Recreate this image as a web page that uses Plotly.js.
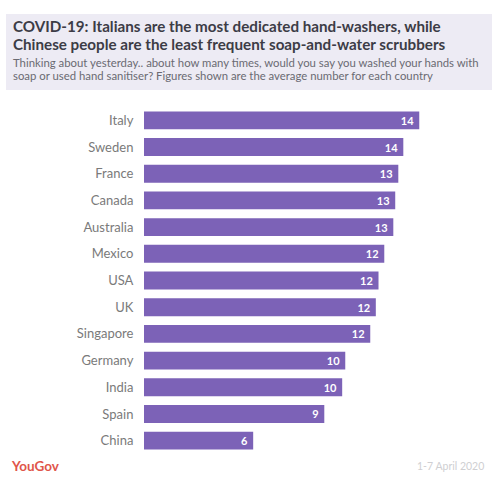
<!DOCTYPE html>
<html><head><meta charset="utf-8">
<script src="https://cdn.plot.ly/plotly-3.0.1.min.js"></script>
<style>html,body{margin:0;padding:0;background:#fff}</style></head>
<body><div id="chart" style="width:502px;height:482px"></div>
<script>
const countries = ["Italy","Sweden","France","Canada","Australia","Mexico","USA","UK","Singapore","Germany","India","Spain","China"];
const values = [14.32,13.49,13.23,13.07,12.97,12.5,12.2,12.06,11.77,10.47,10.31,9.38,5.68];
const valueLabels = ["14","14","13","13","13","12","12","12","12","10","10","9","6"];
const titleLines = ["COVID-19: Italians are the most dedicated hand-washers, while","Chinese people are the least frequent soap-and-water scrubbers"];
const subtitleLines = ["Thinking about yesterday.. about how many times, would you say you washed your hands with","soap or used hand sanitiser? Figures shown are the average number for each country"];
const F = "Lato, 'Open Sans', sans-serif";
const W = 346, H = 347, L = 144, T = 107;
const px = v => (v - L) / W, py = v => (T + H - v) / H;
const line = (x, y, text, size, color, anchor) => ({xref:"paper",yref:"paper",x:px(x),y:py(y),xanchor:anchor||"left",yanchor:"middle",showarrow:false,text:text,font:{family:F,size:size,color:color}});
Plotly.newPlot("chart",[{
  type:"bar",orientation:"h",x:values,y:countries,text:valueLabels,texttemplate:"%{text}\u00a0",
  textposition:"inside",insidetextanchor:"end",textangle:0,constraintext:"none",
  textfont:{family:F,size:11,color:"#ffffff",weight:700},
  marker:{color:"#7c62b7"},hoverinfo:"skip",cliponaxis:false
}],{
  width:502,height:482,paper_bgcolor:"#fff",plot_bgcolor:"#fff",showlegend:false,
  margin:{l:L,r:12,t:T,b:28,pad:0},bargap:0.33,
  xaxis:{range:[0,18],visible:false,fixedrange:true},
  yaxis:{type:"category",autorange:"reversed",showgrid:false,zeroline:false,showline:false,ticks:"outside",ticklen:7,tickcolor:"rgba(0,0,0,0)",
    tickfont:{family:F,size:13,color:"#7a7a7a"},fixedrange:true},
  shapes:[{type:"rect",xref:"paper",yref:"paper",x0:px(6),x1:px(492),y0:py(90),y1:py(14),fillcolor:"#edebf4",line:{width:0},layer:"below"}],
  annotations:[
   line(11,25.5,"<b>"+titleLines[0]+"</b>",15.2,"#3c3c46"),
   line(11,43.9,"<b>"+titleLines[1]+"</b>",15.2,"#3c3c46"),
   line(11,62.5,subtitleLines[0],11.35,"#6a6a72"),
   line(11,75.5,subtitleLines[1],11.35,"#6a6a72"),
   line(9,466,"<b>YouGov</b>",13.5,"#e0554a"),
   line(486,466,"1-7 April 2020",10.5,"#cfcfd2","right")
  ]
},{displayModeBar:false,staticPlot:true});
</script></body></html>
